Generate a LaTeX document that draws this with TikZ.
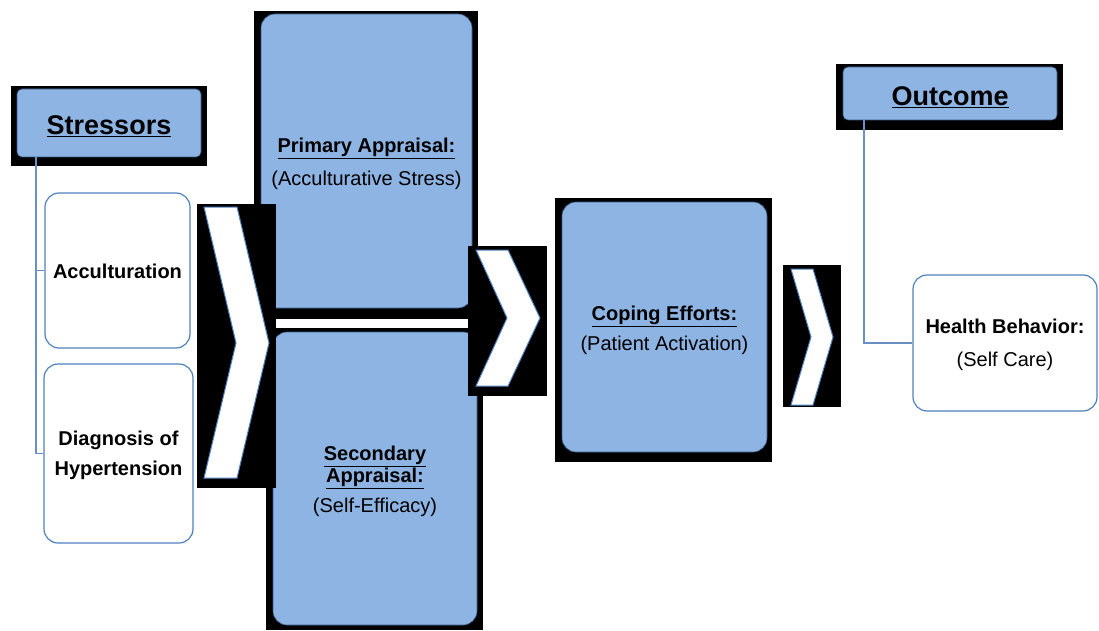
\documentclass[tikz,border=0pt]{standalone}
\usepackage{fontspec}
\setmainfont{Liberation Sans}
\usetikzlibrary{positioning}
\definecolor{boxblue}{HTML}{8EB4E3}
\definecolor{edgeblue}{HTML}{4F81BD}
\definecolor{linkblue}{HTML}{6A8FC2}
\newcommand{\raisetop}[1]{\rule{0pt}{#1}}

\begin{document}
\begin{tikzpicture}[
    x=1pt, y=-1pt,
    backing/.style={rectangle, fill=black, inner sep=0pt},
    stage/.style={rectangle, rounded corners=14pt, draw=edgeblue!70!black, fill=boxblue, line width=0.6pt, inner sep=0pt, align=center, font=\fontsize{20}{22}\selectfont},
    header/.style={stage, rounded corners=5pt, font=\fontsize{27}{30}\selectfont\bfseries},
    item/.style={rectangle, rounded corners=14pt, draw=edgeblue, fill=white, line width=1.2pt, inner sep=0pt, align=center, font=\fontsize{20}{22}\selectfont\bfseries},
    chevron/.style={draw=edgeblue, fill=white, line width=1pt},
    link/.style={draw=linkblue, line width=1.6pt}
]
\useasboundingbox (0,0) rectangle (1099,631);

% appraisal stages
\node[backing, minimum width=224pt, minimum height=308pt] (primaryback) at (366,165) {};
\node[stage, minimum width=211pt, minimum height=294pt] (primary) at (366.5,161) {\raisetop{21pt}\textbf{\underline{Primary Appraisal:}}\\[11pt](Acculturative Stress)};
\node[backing, minimum width=217pt, minimum height=302pt] (secondaryback) at (374.5,479) {};
\node[stage, minimum width=204pt, minimum height=293pt] (secondary) at (375,478.5) {\raisetop{21pt}\textbf{\underline{Secondary}}\\\textbf{\underline{Appraisal:}}\\[8pt](Self-Efficacy)};

% chevrons between stages
\node[backing, minimum width=79pt, minimum height=284pt] (chevronbackA) at (236.5,346) {};
\draw[chevron] (204,207) -- (237,207) -- (269,343) -- (237,478) -- (204,478) -- (236,343) -- cycle;
\node[backing, minimum width=79pt, minimum height=150pt] (chevronbackB) at (507.5,321) {};
\draw[chevron] (476,250) -- (508,250) -- (540,318) -- (508,386) -- (476,386) -- (507,318) -- cycle;

% stressors
\node[backing, minimum width=196pt, minimum height=80pt] (stressback) at (109,126) {};
\node[header, minimum width=184pt, minimum height=68pt] (stress) at (109,123) {\raisetop{26pt}\underline{Stressors}};
\node[item, minimum width=145pt, minimum height=155pt] (accult) at (117.5,270.5) {\raisetop{17pt}Acculturation};
\node[item, minimum width=149pt, minimum height=179pt] (diag) at (118.5,453.5) {\raisetop{19pt}Diagnosis of\\[8pt]Hypertension};
\draw[link] ([xshift=19pt]stress.south west) |- (accult.west);
\draw[link] ([xshift=19pt]stress.south west) |- (diag.west);

% coping
\node[backing, minimum width=217pt, minimum height=264pt] (copingback) at (663.5,330) {};
\node[stage, minimum width=205pt, minimum height=250pt] (coping) at (664.5,327) {\raisetop{21pt}\textbf{\underline{Coping Efforts:}}\\[8pt](Patient Activation)};
\node[backing, minimum width=58pt, minimum height=142pt] (chevronbackC) at (812,336) {};
\draw[chevron] (791,269) -- (813,269) -- (833,337) -- (813,405) -- (791,405) -- (811,337) -- cycle;

% outcome
\node[backing, minimum width=227pt, minimum height=66pt] (outcomeback) at (949.5,97) {};
\node[header, minimum width=214pt, minimum height=53pt] (outcome) at (950,93.5) {\raisetop{26pt}\underline{Outcome}};
\node[item, minimum width=184pt, minimum height=136pt] (health) at (1005,343) {\raisetop{18pt}Health Behavior:\\[11pt]\mdseries(Self Care)};
\draw[link] ([xshift=21pt]outcome.south west) |- (health.west);
\end{tikzpicture}
\end{document}
